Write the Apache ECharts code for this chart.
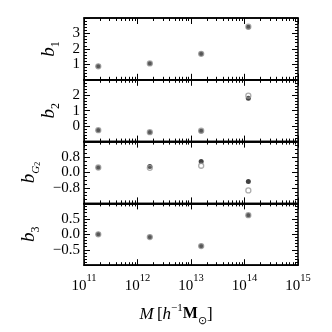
<!DOCTYPE html>
<html>
<head>
<meta charset="utf-8">
<script src="https://cdn.jsdelivr.net/npm/echarts@6/dist/echarts.min.js"></script>
<style>
html, body { margin: 0; padding: 0; background: #fff; }
#chart { width: 332px; height: 332px; }
</style>
</head>
<body>
<div id="chart"></div>
<script>
// halo mass of each bin
const mass = [1.85e11, 1.7e12, 1.55e13, 1.18e14];
// bias values, filled (black) and open (grey) markers
const b1Full = [0.87, 1.06, 1.68, 3.42];
const b1Open = [0.87, 1.06, 1.68, 3.44];
const b2Full = [-0.26, -0.39, -0.31, 1.8];
const b2Open = [-0.26, -0.39, -0.29, 1.97];
const bG2Full = [0.26, 0.31, 0.57, -0.47];
const bG2Open = [0.26, 0.24, 0.35, -0.93];
const b3Full = [0.0, -0.09, -0.38, 0.62];
const b3Open = [0.0, -0.09, -0.38, 0.62];

const FONT = "Liberation Serif";

const panels = [
  { name: "{b|b}{s|1}", min: 0, max: 4, interval: 1, minor: 5, dec: 0, full: b1Full, open: b1Open },
  { name: "{b|b}{s|2}", min: -1, max: 3, interval: 1, minor: 5, dec: 0, full: b2Full, open: b2Open },
  { name: "{b|b}{g|G}{t|2}", min: -1.6, max: 1.6, interval: 0.8, minor: 4, dec: 1, full: bG2Full, open: bG2Open },
  { name: "{b|b}{s|3}", min: -1, max: 1, interval: 0.5, minor: 5, dec: 1, full: b3Full, open: b3Open }
];

const tops = [18, 79.8, 141.6, 203.4];
const H = 61.8;
const N = panels.length;

let grid = [], xAxis = [], yAxis = [], series = [];

const lineStyle = { color: "#000", width: 1.5 };
const tickStyle = { color: "#000", width: 1 };

// data grids: x axes with ticks, y labels and names
panels.forEach((p, i) => {
  grid.push({ left: 84, width: 214, top: tops[i], height: H,
    show: true, borderColor: "#000", borderWidth: 1.5, backgroundColor: "transparent" });
  const last = i === N - 1;
  const yi = 3 * i;
  xAxis.push({
    type: "log", logBase: 10, min: 1e11, max: 1e15, gridIndex: i, position: "bottom",
    axisLine: { onZero: true, onZeroAxisIndex: yi + 1, lineStyle: lineStyle },
    axisTick: { show: true, inside: true, length: 6, lineStyle: tickStyle },
    minorTick: { show: true, splitNumber: 9, length: 3, lineStyle: tickStyle },
    splitLine: { show: false },
    axisLabel: {
      show: last, margin: 8,
      formatter: v => "{b|10}{e|" + Math.round(Math.log10(v)) + "}",
      rich: {
        b: { fontSize: 15, fontFamily: FONT, color: "#000", lineHeight: 20, verticalAlign: "bottom" },
        e: { fontSize: 10.5, fontFamily: FONT, color: "#000", lineHeight: 10, verticalAlign: "top" }
      }
    },
    name: last ? "{i|M} {n|[}{i|h}{u|\u22121}{m|M}{d|\u2299}{n|]}" : "",
    nameLocation: "middle", nameGap: 37,
    nameTextStyle: {
      padding: [0, 30, 0, 0],
      rich: {
        i: { fontSize: 17, fontFamily: FONT, fontStyle: "italic", color: "#000", lineHeight: 24 },
        n: { fontSize: 17, fontFamily: FONT, color: "#000", lineHeight: 24 },
        m: { fontSize: 16, fontFamily: FONT, fontWeight: "bold", color: "#000", lineHeight: 24 },
        u: { fontSize: 11, fontFamily: FONT, color: "#000", lineHeight: 12, verticalAlign: "top" },
        d: { fontSize: 11, fontFamily: FONT, color: "#000", lineHeight: 12, verticalAlign: "bottom" }
      }
    }
  });
  xAxis.push({
    type: "log", logBase: 10, min: 1e11, max: 1e15, gridIndex: i, position: "top",
    axisLine: { onZero: true, onZeroAxisIndex: yi + 2, lineStyle: lineStyle },
    axisTick: { show: true, inside: true, length: 6, lineStyle: tickStyle },
    minorTick: { show: true, splitNumber: 9, length: 3, lineStyle: tickStyle },
    splitLine: { show: false }, axisLabel: { show: false }
  });
  const fmt = v => {
    let s = Number(v).toFixed(p.dec);
    if (s === "-0.0") s = "0.0";
    return s.replace("-", "\u2212");
  };
  yAxis.push({
    type: "value", min: p.min, max: p.max, interval: p.interval, gridIndex: i, position: "left",
    axisLine: { show: false },
    axisTick: { show: false },
    splitLine: { show: false },
    axisLabel: { showMinLabel: false, showMaxLabel: false, formatter: fmt, margin: 4,
      fontSize: 15, fontFamily: FONT, color: "#000" },
    name: p.name, nameLocation: "middle", nameGap: 22, nameRotate: 90,
    nameTextStyle: {
      rich: {
        b: { fontSize: 19, fontFamily: FONT, fontStyle: "italic", color: "#000", lineHeight: 22, verticalAlign: "top" },
        g: { fontSize: 11, fontFamily: FONT, fontStyle: "italic", color: "#000", lineHeight: 12, verticalAlign: "bottom" },
        t: { fontSize: 8, fontFamily: FONT, color: "#000", lineHeight: 8, verticalAlign: "bottom" },
        s: { fontSize: 12, fontFamily: FONT, color: "#000", lineHeight: 12, verticalAlign: "bottom" }
      }
    }
  });
  // hidden helpers: their zero sits on the bottom / top edge, so the x axes sit there
  yAxis.push({ type: "value", min: 0, max: 1, gridIndex: i, show: false });
  yAxis.push({ type: "value", min: -1, max: 0, gridIndex: i, show: false });
  series.push({
    type: "scatter", xAxisIndex: 2 * i, yAxisIndex: yi,
    symbol: "circle", symbolSize: 5,
    itemStyle: { color: "#111" },
    data: mass.map((m, j) => [m, p.full[j]]), z: 3
  });
  series.push({
    type: "scatter", xAxisIndex: 2 * i, yAxisIndex: yi,
    symbol: "circle", symbolSize: 5,
    itemStyle: { color: "rgba(255,255,255,0.15)", borderColor: "#999", borderWidth: 1.3 },
    data: mass.map((m, j) => [m, p.open[j]]), z: 4
  });
});

// overlay grids: only the y ticks, left and right
panels.forEach((p, i) => {
  grid.push({ left: 84, width: 214, top: tops[i], height: H });
  xAxis.push({ type: "log", logBase: 10, min: 1e11, max: 1e15, gridIndex: N + i, show: false });
  ["left", "right"].forEach(pos => {
    yAxis.push({
      type: "value", min: p.min, max: p.max, interval: p.interval, gridIndex: N + i, position: pos,
      axisLine: { show: false },
      axisTick: { show: true, inside: true, length: 6, lineStyle: tickStyle },
      minorTick: { show: true, splitNumber: p.minor, length: 3, lineStyle: tickStyle },
      splitLine: { show: false }, axisLabel: { show: false }
    });
  });
});

const chart = echarts.init(document.getElementById("chart"));
chart.setOption({
  animation: false,
  backgroundColor: "#fff",
  grid: grid,
  xAxis: xAxis,
  yAxis: yAxis,
  series: series
});
</script>
</body>
</html>
